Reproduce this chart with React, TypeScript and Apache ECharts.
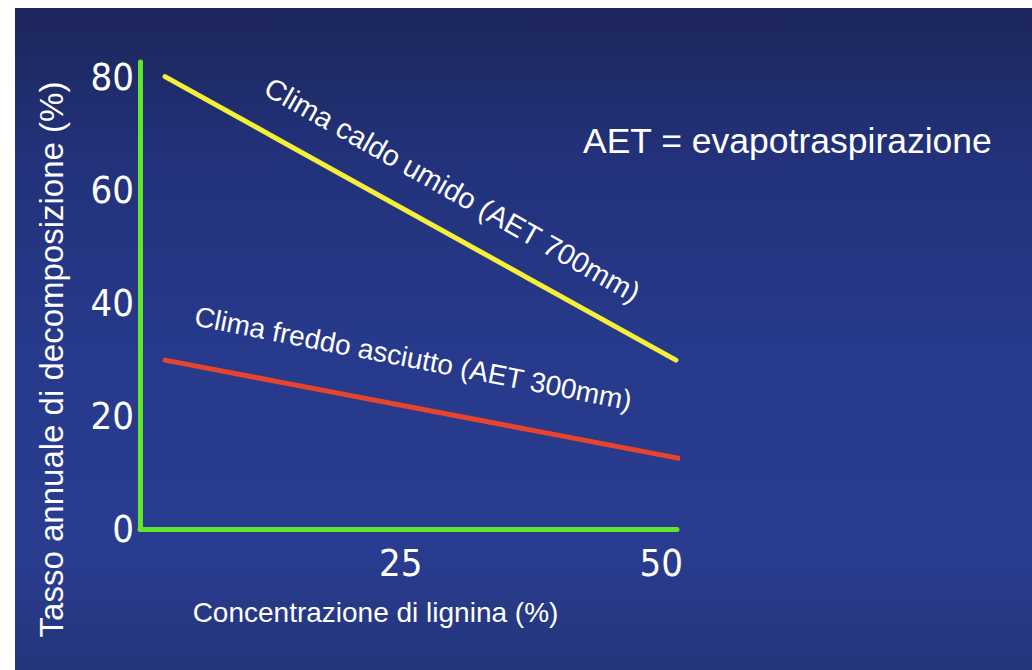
import React, { useEffect, useRef } from "react";
import * as echarts from "echarts";

const xTicks = [25, 50];
const yTicks = [0, 20, 40, 60, 80];
const warmHumid: [number, number][] = [
  [2.4, 80.1],
  [51.4, 29.9],
];
const coldDry: [number, number][] = [
  [2.4, 29.9],
  [52.6, 12.2],
];
const warmLabel = "Clima caldo umido (AET 700mm)";
const coldLabel = "Clima freddo asciutto (AET 300mm)";
const noteText = "AET = evapotraspirazione";
const xName = "Concentrazione di lignina (%)";
const yName = "Tasso annuale di decomposizione (%)";

const GREEN = "#62e62c";
const FONT = "'Liberation Sans', Arial, sans-serif";
const NARROW = "'Liberation Sans Narrow', 'DejaVu Sans Condensed', 'Liberation Sans', sans-serif";

export default function App() {
  const ref = useRef<HTMLDivElement>(null);
  useEffect(() => {
    if (!ref.current) return;
    const chart = echarts.init(ref.current, undefined, { renderer: "svg" });
    chart.setOption({
      animation: false,
      backgroundColor: "transparent",
      grid: { left: 125, right: 355, top: 54, bottom: 141, containLabel: false },
      xAxis: {
        type: "value",
        min: 0,
        max: 51.5,
        interval: 25,
        name: xName,
        nameLocation: "middle",
        nameGap: 69,
        nameTextStyle: { color: "#ffffff", fontSize: 28, fontFamily: FONT, padding: [0, 66, 0, 0] },
        axisLine: { show: true, onZero: false, lineStyle: { color: GREEN, width: 5 } },
        axisTick: { show: false },
        splitLine: { show: false },
        axisLabel: {
          color: "#ffffff",
          fontSize: 38,
          fontFamily: NARROW,
          margin: 15,
          formatter: (v: number) => (xTicks.includes(v) ? String(v) : ""),
        },
      },
      yAxis: {
        type: "value",
        min: 0,
        max: 82.7,
        interval: 20,
        name: yName,
        nameLocation: "middle",
        nameGap: 72,
        nameTextStyle: { color: "#ffffff", fontSize: 33, fontFamily: FONT, padding: [0, 128, 0, 0] },
        axisLine: { show: true, lineStyle: { color: GREEN, width: 5 } },
        axisTick: { show: false },
        splitLine: { show: false },
        axisLabel: {
          color: "#ffffff",
          fontSize: 38,
          fontFamily: NARROW,
          margin: 6,
          formatter: (v: number) => (yTicks.includes(v) ? String(v) : ""),
        },
      },
      series: [
        {
          type: "line",
          name: warmLabel,
          data: warmHumid,
          symbol: "none",
          clip: false,
          lineStyle: { color: "#f4ef38", width: 5, cap: "round" },
        },
        {
          type: "line",
          name: coldLabel,
          data: coldDry,
          symbol: "none",
          clip: false,
          lineStyle: { color: "#e8432c", width: 5, cap: "round" },
        },
      ],
      graphic: [
        {
          type: "text",
          x: 252,
          y: 77,
          rotation: (-29.5 * Math.PI) / 180,
          style: {
            text: warmLabel,
            fill: "#ffffff",
            fontSize: 29,
            fontFamily: FONT,
            textAlign: "left",
            textVerticalAlign: "middle",
          },
        },
        {
          type: "text",
          x: 180,
          y: 308,
          rotation: (-11 * Math.PI) / 180,
          style: {
            text: coldLabel,
            fill: "#ffffff",
            fontSize: 28,
            fontFamily: FONT,
            textAlign: "left",
            textVerticalAlign: "middle",
          },
        },
        {
          type: "text",
          x: 568,
          y: 133,
          style: {
            text: noteText,
            fill: "#ffffff",
            fontSize: 35.5,
            fontFamily: FONT,
            textAlign: "left",
            textVerticalAlign: "middle",
          },
        },
      ],
    });
    return () => chart.dispose();
  }, []);
  return (
    <div
      style={{
        position: "fixed",
        left: 15,
        top: 8,
        width: 1017,
        height: 662,
        background:
          "linear-gradient(to bottom, #1c265a 0%, #22317a 22%, #27398a 50%, #293c8f 82%, #25357c 100%)",
      }}
    >
      <div ref={ref} style={{ width: 1017, height: 662 }} />
    </div>
  );
}
